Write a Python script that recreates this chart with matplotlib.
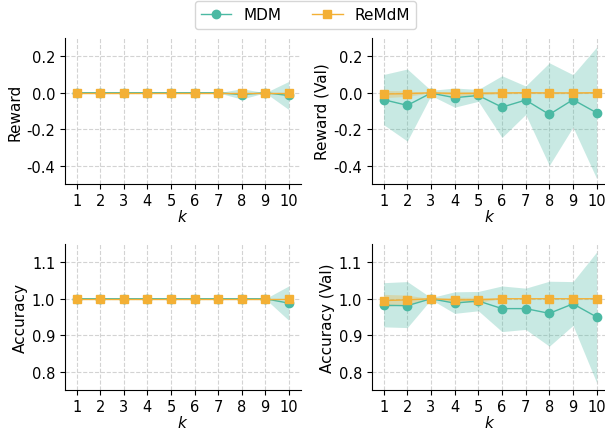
import matplotlib
matplotlib.use("Agg")
import matplotlib.pyplot as plt
import numpy as np

plt.rcParams['font.family'] = ['DejaVu Sans']
plt.rcParams['axes.unicode_minus'] = False
plt.rcParams['font.size'] = 10

k = [1, 2, 3, 4, 5, 6, 7, 8, 9, 10]

# Reward (train)
mdm_reward = [0, 0, 0, 0, 0, 0, 0, -0.01, 0, -0.015]
mdm_reward_lo = [0, 0, 0, 0, 0, -0.004, 0, -0.035, 0, -0.092]
mdm_reward_hi = [0, 0, 0, 0, 0, 0.004, 0, 0.022, 0, 0.062]
remdm_reward = [0, 0, 0, 0, 0, 0, 0, 0, 0, 0]
remdm_reward_lo = [0, 0, 0, 0, 0, 0, 0, 0, 0, 0]
remdm_reward_hi = [0, 0, 0, 0, 0, 0, 0, 0, 0, 0]

# Reward (Val)
mdm_reward_val = [-0.038, -0.069, -0.002, -0.027, -0.015, -0.079, -0.04, -0.119, -0.038, -0.11]
mdm_reward_val_lo = [-0.175, -0.265, -0.015, -0.079, -0.047, -0.245, -0.119, -0.398, -0.188, -0.47]
mdm_reward_val_hi = [0.10, 0.13, 0.013, 0.026, 0.018, 0.093, 0.037, 0.164, 0.099, 0.25]
remdm_reward_val = [-0.007, -0.005, 0, -0.004, -0.003, -0.001, 0, -0.001, -0.001, 0]
remdm_reward_val_lo = [-0.027, -0.02, 0, -0.016, -0.012, -0.006, -0.004, -0.006, -0.005, -0.003]
remdm_reward_val_hi = [0.013, 0.01, 0, 0.008, 0.006, 0.004, 0.004, 0.004, 0.003, 0.003]

# Accuracy (train)
mdm_acc = [1, 1, 1, 1, 1, 1, 1, 1, 1, 0.988]
mdm_acc_lo = [1, 1, 1, 1, 1, 1, 1, 1, 1, 0.941]
mdm_acc_hi = [1, 1, 1, 1, 1, 1, 1, 1, 1, 1.035]
remdm_acc = [1, 1, 1, 1, 1, 1, 1, 1, 1, 1]
remdm_acc_lo = [1, 1, 1, 1, 1, 1, 1, 1, 1, 1]
remdm_acc_hi = [1, 1, 1, 1, 1, 1, 1, 1, 1, 1]

# Accuracy (Val)
mdm_acc_val = [0.982, 0.981, 1.0, 0.988, 0.994, 0.973, 0.973, 0.96, 0.986, 0.95]
mdm_acc_val_lo = [0.923, 0.921, 0.998, 0.96, 0.967, 0.91, 0.916, 0.87, 0.927, 0.77]
mdm_acc_val_hi = [1.044, 1.047, 1.003, 1.019, 1.02, 1.035, 1.029, 1.048, 1.047, 1.128]
remdm_acc_val = [0.995, 0.997, 1.0, 0.997, 0.997, 1.0, 1.0, 1.0, 1.0, 1.0]
remdm_acc_val_lo = [0.978, 0.985, 1.0, 0.99, 0.99, 1.0, 1.0, 1.0, 1.0, 1.0]
remdm_acc_val_hi = [1.012, 1.01, 1.0, 1.004, 1.004, 1.0, 1.0, 1.0, 1.0, 1.0]

ylabels = ["Reward", "Reward (Val)", "Accuracy", "Accuracy (Val)"]
reward_ticks = [-0.4, -0.2, 0.0, 0.2]
acc_ticks = [0.8, 0.9, 1.0, 1.1]

C_MDM = '#4BB9A3'
C_RE = '#F3B035'

W, H = 605, 431
fig = plt.figure(figsize=(W / 100, H / 100), dpi=100)

def pos(x0, y0, x1, y1):
    return [x0 / W, 1 - y1 / H, (x1 - x0) / W, (y1 - y0) / H]

axes = [
    fig.add_axes(pos(65, 39, 300.5, 185)),
    fig.add_axes(pos(371.8, 39, 608.5, 185)),
    fig.add_axes(pos(65, 245, 300.5, 391)),
    fig.add_axes(pos(371.8, 245, 608.5, 391)),
]

panels = [
    (mdm_reward, mdm_reward_lo, mdm_reward_hi, remdm_reward, remdm_reward_lo, remdm_reward_hi, reward_ticks, (-0.5, 0.3)),
    (mdm_reward_val, mdm_reward_val_lo, mdm_reward_val_hi, remdm_reward_val, remdm_reward_val_lo, remdm_reward_val_hi, reward_ticks, (-0.5, 0.3)),
    (mdm_acc, mdm_acc_lo, mdm_acc_hi, remdm_acc, remdm_acc_lo, remdm_acc_hi, acc_ticks, (0.75, 1.15)),
    (mdm_acc_val, mdm_acc_val_lo, mdm_acc_val_hi, remdm_acc_val, remdm_acc_val_lo, remdm_acc_val_hi, acc_ticks, (0.75, 1.15)),
]

for ax, label, p in zip(axes, ylabels, panels):
    m, mlo, mhi, r, rlo, rhi, ticks, ylim = p
    ax.fill_between(k, mlo, mhi, color=C_MDM, alpha=0.3, linewidth=0, zorder=2)
    ax.fill_between(k, rlo, rhi, color=C_RE, alpha=0.3, linewidth=0, zorder=2)
    ax.plot(k, m, color=C_MDM, marker='o', markersize=6, linewidth=1, label='MDM', zorder=3)
    ax.plot(k, r, color=C_RE, marker='s', markersize=6, linewidth=1, label='ReMdM', zorder=4)
    ax.set_xlim(0.5, 10.5)
    ax.set_ylim(*ylim)
    ax.set_xticks(k)
    ax.set_xticklabels([str(v) for v in k], fontsize=10.5)
    ax.set_yticks(ticks)
    ax.set_yticklabels(["{:.1f}".format(t) for t in ticks], fontsize=10.5)
    ax.tick_params(axis='x', pad=3)
    ax.set_xlabel("$k$", fontsize=11, labelpad=0)
    ax.set_ylabel(label, fontsize=11, labelpad=3)
    ax.grid(True, linestyle='--', color='#d3d3d3', linewidth=0.8)
    ax.set_axisbelow(True)
    ax.spines['top'].set_visible(False)
    ax.spines['right'].set_visible(False)

handles, labels = axes[0].get_legend_handles_labels()
fig.legend(handles, labels, loc='center', bbox_to_anchor=(0.505, 1 - 16 / H), ncol=2,
           fontsize=11, frameon=True, handlelength=2.0, columnspacing=2.0)

fig.savefig("out.png", dpi=100)
